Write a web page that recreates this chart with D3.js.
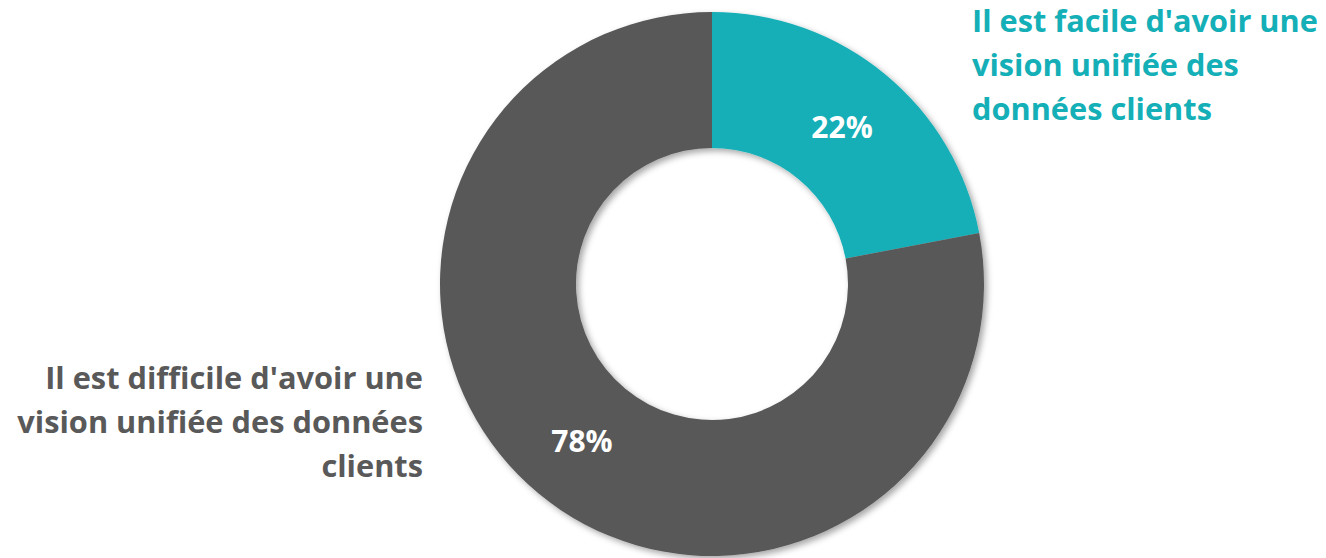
<!DOCTYPE html>
<html>
<head>
<meta charset="utf-8">
<script src="https://cdn.jsdelivr.net/npm/d3@7"></script>
<style>
  body { margin: 0; background: #fff; }
  svg { display: block; }
  text { font-family: "Open Sans", "Noto Sans", sans-serif; font-weight: 700; }
</style>
</head>
<body>
<svg id="chart" width="1326" height="558"></svg>
<script>
// data
const categories = ["Il est facile d'avoir une vision unifiée des données clients",
                    "Il est difficile d'avoir une vision unifiée des données clients"];
const values = [22, 78];
const colors = ['#14afb7', '#595959'];
const labelLines = [
  ["Il est facile d'avoir une", "vision unifiée des", "données clients"],
  ["Il est difficile d'avoir une", "vision unifiée des données", "clients"]
];

const svg = d3.select('#chart');
const cx = 712, cy = 284;
const outerR = 272, innerR = 136;

// soft shadow like the office export
const defs = svg.append('defs');
defs.append('filter')
  .attr('id', 'shadow')
  .attr('x', '-20%').attr('y', '-20%')
  .attr('width', '140%').attr('height', '140%')
  .append('feDropShadow')
  .attr('dx', 3).attr('dy', 3)
  .attr('stdDeviation', 3)
  .attr('flood-color', '#000')
  .attr('flood-opacity', 0.35);

const pie = d3.pie().sort(null).value(d => d);
const arc = d3.arc().innerRadius(innerR).outerRadius(outerR);
const arcs = pie(values);

const g = svg.append('g').attr('transform', `translate(${cx},${cy})`);

g.append('g')
  .attr('filter', 'url(#shadow)')
  .selectAll('path')
  .data(arcs)
  .join('path')
  .attr('d', arc)
  .attr('fill', (d, i) => colors[i]);

// percent labels at centroids
g.selectAll('text.pct')
  .data(arcs)
  .join('text')
  .attr('class', 'pct')
  .attr('x', d => arc.centroid(d)[0])
  .attr('y', d => arc.centroid(d)[1])
  .attr('dy', '0.36em')
  .attr('text-anchor', 'middle')
  .attr('fill', '#fff')
  .style('font-size', '30px')
  .text(d => d.value + '%');

// category labels, squeezed a bit to mimic Calibri widths
function addLabel(lines, x, y0, anchor, color, firstWidth) {
  const t = svg.append('text')
    .attr('fill', color)
    .attr('text-anchor', anchor)
    .style('font-size', '30px');
  lines.forEach((line, i) => {
    t.append('tspan')
      .attr('x', 0)
      .attr('y', i * 44)
      .text(line);
  });
  const w = t.select('tspan').node().getComputedTextLength();
  const sx = firstWidth / w;
  t.attr('transform', `translate(${x},${y0}) scale(${sx},1)`);
}

addLabel(labelLines[0], 972, 32, 'start', colors[0], 346);
addLabel(labelLines[1], 423, 389, 'end', colors[1], 378);
</script>
</body>
</html>
